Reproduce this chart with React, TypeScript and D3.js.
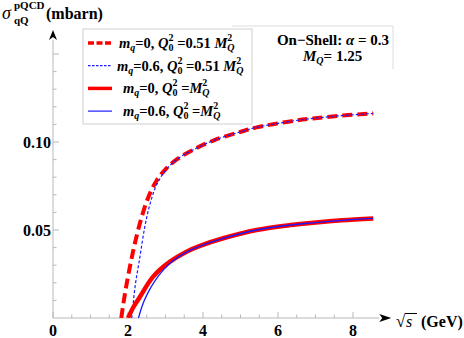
import React from 'react';
import { scaleLinear, line, curveCatmullRom, range } from 'd3';

// sqrt(s) in GeV, sigma in mbarn
const sRedDash = [1.82, 1.92, 2.05, 2.19, 2.36, 2.54, 2.76, 3.0, 3.31, 3.73, 4.32, 4.99, 5.43, 6.32, 6.93, 7.7, 8.54];
const sigRedDash = [0, 0.014, 0.029, 0.043, 0.057, 0.0685, 0.078, 0.0845, 0.0902, 0.0955, 0.1012, 0.1057, 0.1083, 0.1117, 0.1134, 0.115, 0.1162];

const sBlueDash = [2.1, 2.19, 2.32, 2.45, 2.59, 2.76, 3.0, 3.31, 3.73, 4.32, 4.99, 5.43, 6.32, 6.93, 7.7, 8.54];
const sigBlueDash = [0, 0.018, 0.035, 0.052, 0.065, 0.0755, 0.0838, 0.0902, 0.0955, 0.1012, 0.1057, 0.1083, 0.1117, 0.1134, 0.115, 0.1162];

const sRedSolid = [2.0, 2.15, 2.32, 2.67, 3.12, 3.56, 3.92, 4.54, 5.43, 6.32, 6.93, 7.7, 8.54];
const sigRedSolid = [0, 0.0064, 0.0121, 0.0235, 0.032, 0.0377, 0.041, 0.0453, 0.05, 0.0528, 0.0541, 0.0555, 0.0566];

const sBlueSolid = [2.28, 2.38, 2.5, 2.7, 2.95, 3.2, 3.56, 3.92, 4.54, 5.43, 6.32, 6.93, 7.7, 8.54];
const sigBlueSolid = [0, 0.007, 0.013, 0.0205, 0.0275, 0.0325, 0.0374, 0.0408, 0.0452, 0.05, 0.0528, 0.0541, 0.0555, 0.0566];

const xTickLabels = [0, 2, 4, 6, 8];
const yTickLabels = ['0.05', '0.10'];
const legendMq = ['0', '0.6', '0', '0.6'];
const legendCoef = ['0.51 ', '0.51 ', '', ''];

const series = [
  { s: sRedDash, v: sigRedDash, color: '#ff0000', width: 4, dash: '10,5' },
  { s: sBlueDash, v: sigBlueDash, color: '#1a1aff', width: 1.2, dash: '3,2' },
  { s: sRedSolid, v: sigRedSolid, color: '#ff0000', width: 4.5, dash: null },
  { s: sBlueSolid, v: sigBlueSolid, color: '#1a1aff', width: 1.3, dash: null },
];

const legendX = [119, 117, 123, 123];

export default function App() {
  const width = 464;
  const height = 338;
  const x = scaleLinear().domain([0, 8.7]).range([53, 53 + 8.7 * 37.5]);
  const y = scaleLinear().domain([0, 0.16]).range([318, 318 - 0.16 * 1760]);
  const x0 = x(0);
  const y0 = y(0);
  const axisCol = '#b8b8b8';
  const serif = "'Liberation Serif', 'DejaVu Serif', 'Noto Serif', 'Tinos', 'FreeSerif', 'Nimbus Roman', 'Times New Roman', serif";

  const path = (s: number[], v: number[]) =>
    line<number>()
      .x((d) => x(s[d]))
      .y((d) => y(v[d]))
      .curve(curveCatmullRom.alpha(0.5))(s.map((_, i) => i)) || '';

  const xTicks = range(0, 17).map((i) => i * 0.5);
  const yTicks = range(1, 16).map((i) => i * 0.01);

  return (
    <svg width={width} height={height} style={{ position: 'absolute', left: 0, top: 0, fontFamily: serif }}>
      <rect width={width} height={height} fill="#fff" />
      <defs>
        <clipPath id="plot">
          <rect x={x0} y={20} width={340} height={y0 - 20} />
        </clipPath>
      </defs>

      {/* axes */}
      <line x1={x0} x2={x(8.7)} y1={y0} y2={y0} stroke={axisCol} />
      <line x1={x0} x2={x0} y1={y0} y2={y(0.158)} stroke={axisCol} />
      <path d={`M${x(8.7) + 12},${y0} L${x(8.7)},${y0 - 4} L${x(8.7) + 3},${y0} L${x(8.7)},${y0 + 4} Z`} fill="#000" />
      <path d={`M${x0},${y(0.158) - 10} L${x0 - 4},${y(0.158)} L${x0},${y(0.158) - 3} L${x0 + 4},${y(0.158)} Z`} fill="#000" />
      {xTicks.map((t) => (
        <line key={t} x1={x(t)} x2={x(t)} y1={y0} y2={y0 - (t % 2 === 0 ? 6 : 3.5)} stroke={axisCol} />
      ))}
      {yTicks.map((t, i) => (
        <line key={t} x1={x0} x2={x0 + ((i + 1) % 5 === 0 ? 6 : 3.5)} y1={y(t)} y2={y(t)} stroke={axisCol} />
      ))}
      {xTickLabels.map((t) => (
        <text key={t} x={x(t)} y={336} textAnchor="middle" fontWeight="bold" fontSize={16}>
          {t}
        </text>
      ))}
      {yTickLabels.map((t) => (
        <text key={t} x={51} y={y(+t) + 5.5} textAnchor="end" fontWeight="bold" fontSize={16}>
          {t}
        </text>
      ))}

      {/* axis titles */}
      <text x={2} y={19} fontSize={18} fontStyle="italic">σ</text>
      <text x={14} y={9} fontSize={11} fontWeight="bold">pQCD</text>
      <text x={14} y={24} fontSize={11} fontWeight="bold">qQ</text>
      <text x={46} y={19} fontSize={16} fontWeight="bold">(mbarn)</text>

      <text x={396} y={327} fontSize={17}>√</text>
      <line x1={405} x2={417} y1={313.5} y2={313.5} stroke="#000" strokeWidth={1} />
      <text x={406} y={327} fontSize={16} fontStyle="italic">s</text>
      <text x={421} y={327} fontSize={16} fontWeight="bold">(GeV)</text>

      {/* curves */}
      <g clipPath="url(#plot)">
        {series.map((d, i) => (
          <path
            key={i}
            d={path(d.s, d.v)}
            fill="none"
            stroke={d.color}
            strokeWidth={d.width}
            strokeDasharray={d.dash || undefined}
          />
        ))}
      </g>

      {/* parameter box */}
      <path d="M232,26 L393,26 L393,69" fill="none" stroke="#dcdcdc" />
      <text x={333} y={45} textAnchor="middle" fontSize={15} fontWeight="bold">
        On−Shell: <tspan fontStyle="italic">α</tspan> = 0.3
      </text>
      <text x={303} y={61} fontSize={15} fontWeight="bold">
        <tspan fontStyle="italic">M</tspan>
        <tspan fontSize={10} fontStyle="italic" dy={3}>Q</tspan>
        <tspan dy={-3}>= 1.25</tspan>
      </text>

      {/* legend */}
      <rect x={83} y={29} width={169} height={95} fill="#fff" stroke="#d0d0d0" />
      {series.map((d, i) => {
        const ly = 43 + i * 22.7;
        return (
          <g key={i}>
            <line x1={88} x2={112} y1={ly} y2={ly} stroke={d.color} strokeWidth={i % 2 === 0 ? 3.5 : 1.2} strokeDasharray={d.dash ? (i === 0 ? '6,2.5' : '2.5,1.5') : undefined} />
            <text x={legendX[i]} y={ly + 5} fontSize={14.5} fontWeight="bold">
              <tspan fontStyle="italic">m</tspan>
              <tspan fontSize={10} fontStyle="italic" dy={3}>q</tspan>
              <tspan dy={-3}>={legendMq[i]}, </tspan>
              <tspan fontStyle="italic">Q</tspan>
              <tspan fontSize={10} dy={-7}>2</tspan>
              <tspan fontSize={10} dx={-5} dy={10}>0</tspan>
              <tspan dy={-3}> ={legendCoef[i]}</tspan>
              <tspan fontStyle="italic">M</tspan>
              <tspan fontSize={10} dy={-7}>2</tspan>
              <tspan fontSize={10} fontStyle="italic" dx={-5} dy={10}>Q</tspan>
            </text>
          </g>
        );
      })}
    </svg>
  );
}
